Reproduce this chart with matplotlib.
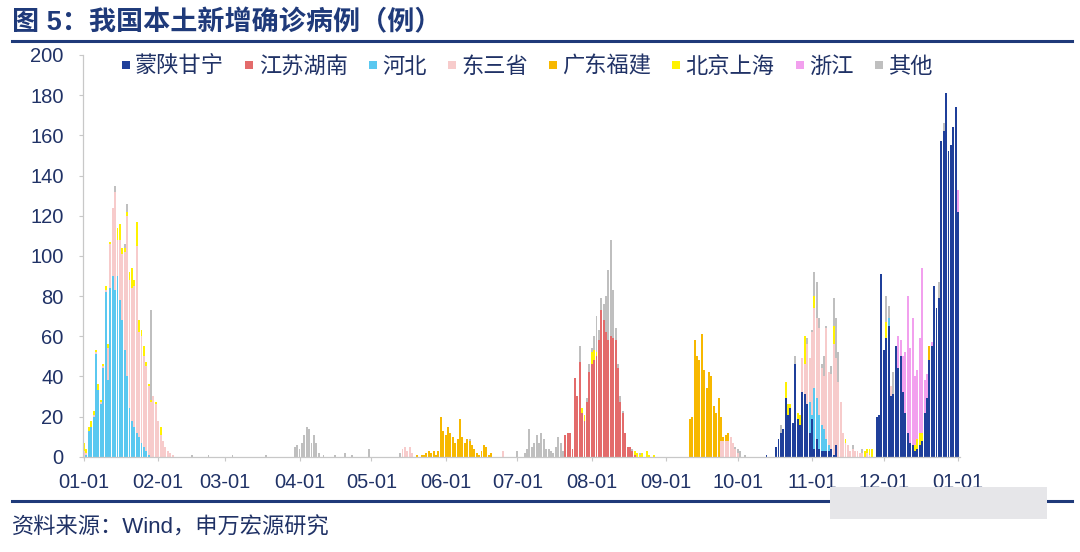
import numpy as np
import pandas as pd
import matplotlib
matplotlib.use("Agg")
import matplotlib.pyplot as plt
import matplotlib.dates as mdates
from matplotlib.lines import Line2D
from matplotlib.patches import Rectangle

plt.rcParams["font.family"] = ["Liberation Sans", "Noto Sans CJK SC", "DejaVu Sans"]

NAVY = "#1F3A7A"
TXT = "#203266"

DAYS = pd.date_range("2021-01-01", "2022-01-01", freq="D")

NAMES = ["蒙陕甘宁", "江苏湖南", "河北", "东三省", "广东福建", "北京上海", "浙江", "其他"]
COLORS = ["#1F3F9A", "#E36B6B", "#5AC8F0", "#F7CBCB", "#F7B800", "#FFF200", "#F2A0EE", "#BFBFBF"]

# 每个地区: {起始日期: 逐日新增}
mengshan = {
    "2021-10-13": [1, 0, 0, 0, 5, 9, 12, 14, 29, 21, 24, 17, 46, 19, 16, 32, 31, 26, 12, 19,
                   4, 9, 4, 3, 3, 3, 3, 4, 1, 6],
    "2021-11-28": [20, 21, 91, 53, 59, 65, 30, 31, 55, 44, 50, 32, 22, 12, 7, 6, 3, 4, 6, 8,
                   22, 29, 48, 55, 85, 74, 79, 157, 162, 181, 152, 155, 164, 174, 122],
}
jiangsu = {
    "2021-07-21": [11, 12, 12, 4, 39, 30, 47, 22, 18, 27, 42, 46, 48, 50, 58, 73, 68, 62, 58, 60,
                   59, 58, 44, 27, 22, 12, 5, 5, 3, 1],
}
hebei = {
    "2021-01-02": [1, 13, 15, 20, 51, 33, 26, 44, 82, 38, 84, 90, 83, 90, 78, 68, 53, 40, 24, 18,
                   15, 12, 10, 7, 5, 3, 1],
    "2021-10-31": [15, 2, 30, 20, 17, 13, 11, 6, 3],
    "2021-12-03": [4],
}
dongsan = {
    "2021-01-01": [3, 1, 0, 0, 1, 1, 0, 1, 1, 1, 16, 22, 34, 49, 18, 30, 33, 49, 80, 64,
                   66, 70, 93, 52, 53, 45, 42, 34, 27, 30, 26, 18, 11, 8, 5, 3, 2, 1],
    "2021-05-14": [4, 5, 3, 5, 2],
    "2021-06-25": [3],
    "2021-09-24": [8, 8, 8, 8, 10, 7, 4, 2],
    "2021-10-28": [17, 15, 30, 22, 41, 40, 40, 43, 28, 26, 55, 36, 37, 55, 43, 37, 27, 12, 7, 6,
                   3, 4, 3, 3, 2, 2, 0, 2, 1],
    "2021-12-04": [5],
}
guangdong = {
    "2021-05-20": [1, 0, 1, 1, 2, 3, 2, 3, 1, 3, 20, 13, 11, 15, 12, 10, 7, 9, 19, 10,
                   7, 9, 8, 6, 4, 2, 1, 3, 6, 5, 1, 2],
    "2021-09-11": [19, 20, 58, 50, 48, 61, 43, 34, 42, 40, 25, 22, 29, 12, 2, 3, 4],
    "2021-12-20": [7],
}
beijing = {
    "2021-01-01": [4, 2, 2, 3, 2, 1, 3, 1, 1, 2, 2, 1, 0, 0, 6, 8, 3, 2, 2, 4,
                   10, 3, 12, 6, 3, 5, 2, 1, 1, 0, 1, 0, 4],
    "2021-07-28": [2, 3, 0, 0, 6, 5, 2],
    "2021-08-19": [2, 2, 1, 2, 0, 3, 1, 0, 1],
    "2021-10-21": [8, 5, 2, 0, 0, 3, 5, 0, 14, 0, 0, 0, 6],
    "2021-11-10": [9],
    "2021-11-15": [2],
    "2021-11-23": [3, 2, 3, 4],
    "2021-12-02": [8],
    "2021-12-14": [3, 5, 6, 4],
}
zhejiang = {
    "2021-12-07": [16, 8, 18, 30, 68, 47, 63, 34, 34, 47, 82, 16, 12, 0, 2],
    "2022-01-01": [11],
}
qita = {
    "2021-01-14": [3, 0, 0, 0, 2, 4, 0, 0, 0, 0, 0, 0, 0, 0, 0, 45],
    "2021-02-15": [1], "2021-02-22": [1], "2021-03-04": [1], "2021-03-18": [1],
    "2021-03-30": [5, 6, 4, 7, 11, 15, 14, 7, 11, 7, 2],
    "2021-04-11": [1], "2021-04-16": [1], "2021-04-20": [2], "2021-04-23": [1], "2021-04-30": [4],
    "2021-05-13": [2], "2021-06-11": [1], "2021-07-01": [3],
    "2021-07-04": [2, 4, 14, 5, 7, 11, 7, 12, 9, 4, 4, 3, 2, 5, 10, 7, 3],
    "2021-07-27": [8, 0, 0, 2, 4, 2, 7, 18, 5, 6, 8, 18, 35, 48, 24, 6, 2, 3, 1],
    "2021-08-18": [1], "2021-08-21": [1],
    "2021-09-30": [1, 2, 3, 0, 1],
    "2021-10-19": [4], "2021-10-25": [4], "2021-10-30": [3],
    "2021-11-01": [1, 12, 18, 5, 2, 10, 1, 0, 4, 14, 20, 15],
    "2021-11-18": [2], "2021-11-22": [2],
    "2021-12-02": [13, 6, 0, 11],
    "2021-12-24": [8, 0, 4],
}


def daily(episodes):
    s = pd.Series(0.0, index=DAYS)
    for start, vals in episodes.items():
        idx = pd.date_range(start, periods=len(vals), freq="D")
        s.loc[idx] = vals
    return s


data = pd.DataFrame({n: daily(e) for n, e in zip(
    NAMES, [mengshan, jiangsu, hebei, dongsan, guangdong, beijing, zhejiang, qita])})

fig = plt.figure(figsize=(10.8, 5.52), dpi=100)
fig.patch.set_facecolor("white")
ax = fig.add_axes([83 / 1080, 1 - 456.7 / 552, 877 / 1080, 401.7 / 552])

bottom = np.zeros(len(data))
for name, col in zip(NAMES, COLORS):
    ax.bar(data.index, data[name].values, width=0.8, bottom=bottom, color=col,
           linewidth=0, label=name)
    bottom += data[name].values

x0 = mdates.date2num(pd.Timestamp("2021-01-01"))
ax.set_xlim(x0 - 0.42, x0 + 365.8)
ax.set_ylim(0, 200)
ax.set_yticks(np.arange(0, 201, 20))
ax.xaxis.set_major_locator(mdates.MonthLocator())
ax.xaxis.set_major_formatter(mdates.DateFormatter("%m-%d"))

for side in ["top", "right"]:
    ax.spines[side].set_visible(False)
for side in ["left", "bottom"]:
    ax.spines[side].set_color("#C8C8C8")
    ax.spines[side].set_linewidth(0.9)
ax.tick_params(axis="y", length=3, width=0.8, color="#C8C8C8", pad=11,
               labelsize=14.5, labelcolor=TXT)
ax.tick_params(axis="x", length=3, width=0.8, color="#C8C8C8", pad=9,
               labelsize=14.5, labelcolor=TXT)

handles = [Line2D([], [], marker="s", linestyle="none", markersize=6,
                  markerfacecolor=c, markeredgewidth=0) for c in COLORS]
ax.legend(handles, NAMES, loc="center left", bbox_to_anchor=(0.033, 0.97), ncol=8,
          frameon=False, fontsize=16, handlelength=0.45, handletextpad=0.2,
          columnspacing=0.9, borderaxespad=0, labelcolor=TXT)

fig.text(12 / 1080, 1 - 23 / 552, "图 5：我国本土新增确诊病例（例）", fontsize=19.5,
         fontweight="bold", color=NAVY, va="center", ha="left")
fig.add_artist(Line2D([12 / 1080, 1072 / 1080], [1 - 41 / 552] * 2, color=NAVY, lw=2.2))
fig.add_artist(Line2D([12 / 1080, 1072 / 1080], [1 - 501 / 552] * 2, color=NAVY, lw=2.2))
fig.text(12 / 1080, 1 - 528 / 552, "资料来源：Wind，申万宏源研究", fontsize=16,
         color=TXT, va="center", ha="left")
# 右下角水印模糊块
fig.add_artist(Rectangle((830 / 1080, 1 - 519 / 552), 217 / 1080, 32 / 552,
                         transform=fig.transFigure, facecolor="#E6E6E9",
                         edgecolor="none", zorder=5))

fig.savefig("out.png", dpi=100, facecolor="white")
